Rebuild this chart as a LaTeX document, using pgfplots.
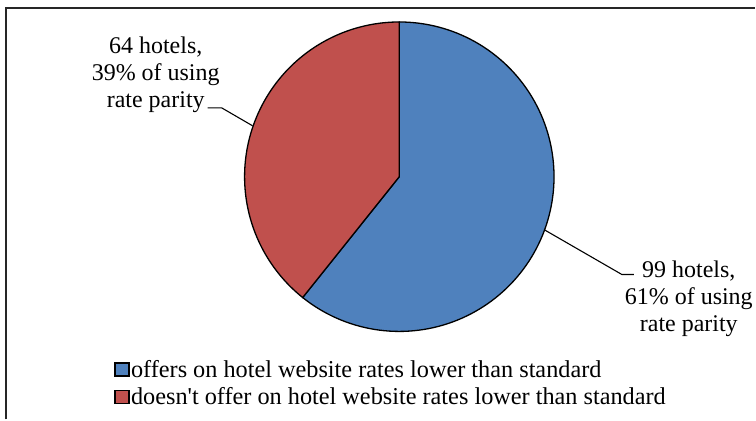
\documentclass[border=0pt]{standalone}
\usepackage{pgfplots}
\pgfplotsset{compat=1.18}
\usepackage{fontspec}
\setmainfont{Liberation Serif}[Ligatures={TeXOff,NoCommon}]
\definecolor{pieblue}{HTML}{4F81BD}
\definecolor{piered}{HTML}{C0504D}
% data: hotels in each group
\def\valA{99}
\def\valB{64}
\pgfmathsetmacro{\total}{\valA+\valB}
\pgfmathsetmacro{\angA}{90-360*(\valA/\total)}
\begin{document}
\begin{tikzpicture}
\begin{axis}[
  width=756bp, height=420bp, scale only axis,
  xmin=0, xmax=756, ymin=0, ymax=420, y dir=reverse,
  hide axis, clip=false,
  legend style={at={(axis cs:114,359)}, anchor=north west, draw=none, fill=none,
    font=\fontsize{24.3bp}{27bp}\selectfont, inner sep=0pt, row sep=6bp,
    nodes={inner sep=1.5bp}},
  legend cell align=left,
  legend image code/.code={\draw[#1,draw=black,line width=1.6bp] (0bp,-6.5bp) rectangle (14bp,6.5bp);},
]
\path (axis cs:0,0) rectangle (axis cs:756,420);
% frame
\addplot[black!85, line width=1.5bp, forget plot] coordinates {(6,420) (6,8) (756,8)};
% sectors
\addplot[fill=pieblue, draw=black, line width=1.3bp, domain=90:\angA, samples=120]
  ({400+155*cos(x)}, {177-155*sin(x)}) -- (axis cs:400,177) -- cycle;
\addlegendentry{offers on hotel website rates lower than standard}
\addplot[fill=piered, draw=black, line width=1.3bp, domain=\angA:-270, samples=100]
  ({400+155*cos(x)}, {177-155*sin(x)}) -- (axis cs:400,177) -- cycle;
\addlegendentry{doesn't offer on hotel website rates lower than standard}
% leader lines
\addplot[black, line width=1.1bp, forget plot] coordinates {(208,108) (222,108) (253,126)};
\addplot[black, line width=1.1bp, forget plot] coordinates {(545,230) (623,275) (635,275)};
% labels
\node[align=center, font=\fontsize{24bp}{27bp}\selectfont] at (axis cs:156,75) {64 hotels,\\39\% of using\\rate parity};
\node[align=center, font=\fontsize{24bp}{27bp}\selectfont] at (axis cs:690,299) {99 hotels,\\61\% of using\\rate parity};
\end{axis}
\end{tikzpicture}
\end{document}
